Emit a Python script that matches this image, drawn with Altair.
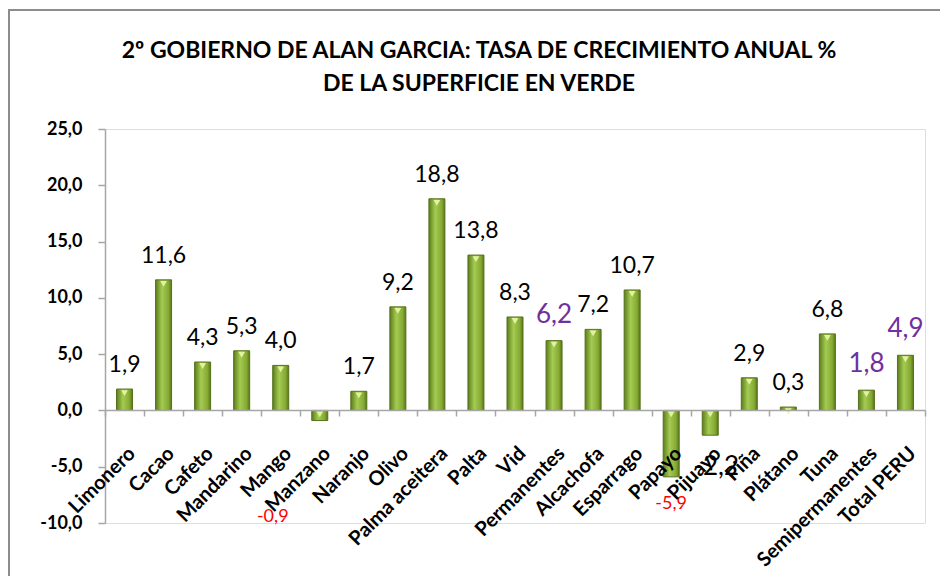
import altair as alt
import pandas as pd

categories = ["Limonero", "Cacao", "Cafeto", "Mandarino", "Mango", "Manzano", "Naranjo",
              "Olivo", "Palma aceitera", "Palta", "Vid", "Permanentes", "Alcachofa",
              "Esparrago", "Papayo", "Pijuayo", "Piña", "Plátano", "Tuna",
              "Semipermanentes", "Total PERU"]
values = [1.9, 11.6, 4.3, 5.3, 4.0, -0.9, 1.7, 9.2, 18.8, 13.8, 8.3, 6.2, 7.2,
          10.7, -5.9, -2.2, 2.9, 0.3, 6.8, 1.8, 4.9]
label_group = ["std", "std", "std", "std", "std", "red", "std", "std", "std", "std",
               "std", "total", "std", "std", "red", "negblack", "std", "std", "std",
               "total", "total"]
y_ticks = [-10, -5, 0, 5, 10, 15, 20, 25]
title_lines = ["2º GOBIERNO DE ALAN GARCIA: TASA DE CRECIMIENTO ANUAL %",
               "DE LA SUPERFICIE EN VERDE"]

df = pd.DataFrame({"cat": categories, "value": values, "grp": label_group})

FONT = "Lato"
fmt = "replace(replace(format(datum.value, '.1f'), '.', ','), '\u2212', '-')"

base = alt.Chart(df).transform_calculate(
    label=fmt,
    top="max(datum.value, 0)"
)

x_enc = alt.X("cat:N", sort=categories,
              scale=alt.Scale(paddingInner=0, paddingOuter=0),
              axis=alt.Axis(title=None, labelAngle=-45, labelFont=FONT, labelFontSize=20,
                            labelFontWeight="bold", labelColor="black", labelPadding=27,
                            offset=-113, domainColor="#a6a6a6", domainWidth=1.5,
                            tickColor="#a6a6a6", tickWidth=1.5, tickSize=6,
                            tickBand="extent", labelOverlap=False, zindex=1))
y_enc = alt.Y("value:Q",
              scale=alt.Scale(domain=[-10, 25], nice=False, zero=False),
              axis=alt.Axis(title=None, values=y_ticks, grid=False,
                            labelExpr=fmt, labelFont=FONT, labelFontSize=18,
                            labelFontWeight="bold", labelColor="black", labelPadding=16,
                            domainColor="#a6a6a6", domainWidth=1.5, tickColor="#a6a6a6",
                            tickWidth=1.5, tickSize=7))

grad = alt.Gradient(gradient="linear", x1=0, x2=1, y1=0, y2=0,
                    stops=[alt.GradientStop(offset=0, color="#5d7d1c"),
                           alt.GradientStop(offset=0.4, color="#a4cb52"),
                           alt.GradientStop(offset=0.8, color="#86aa34"),
                           alt.GradientStop(offset=1, color="#587619")])

bars = base.mark_bar(width=16, fill=grad, stroke="#55721b", strokeWidth=1).encode(
    x=x_enc, y=y_enc, y2=alt.datum(0))

tips = base.mark_point(shape="triangle-down", filled=True, color="#e2f3a0",
                       size=45, opacity=1, yOffset=4).encode(
    x=alt.X("cat:N", sort=categories), y="top:Q")

std_labels = base.transform_filter("datum.grp == 'std'").mark_text(
    font=FONT, fontSize=23, color="black", baseline="alphabetic", dy=-17).encode(
    x=alt.X("cat:N", sort=categories), y="value:Q", text="label:N")

total_labels = base.transform_filter("datum.grp == 'total'").mark_text(
    font=FONT, fontSize=26, color="#7030a0", baseline="alphabetic", dy=-18).encode(
    x=alt.X("cat:N", sort=categories), y="value:Q", text="label:N")

manzano_label = base.transform_filter("datum.cat == 'Manzano'").mark_text(
    font=FONT, fontSize=18, color="#ff0000", baseline="middle", dx=-47, dy=96).encode(
    x=alt.X("cat:N", sort=categories), y="value:Q", text="label:N")

papayo_label = base.transform_filter("datum.cat == 'Papayo'").mark_text(
    font=FONT, fontSize=18, color="#ff0000", baseline="middle", dy=27).encode(
    x=alt.X("cat:N", sort=categories), y="value:Q", text="label:N")

pijuayo_label = base.transform_filter("datum.grp == 'negblack'").mark_text(
    font=FONT, fontSize=26, color="black", baseline="middle", dx=6, dy=32).encode(
    x=alt.X("cat:N", sort=categories), y="value:Q", text="label:N")

frame = alt.Chart(pd.DataFrame({"a": [0]})).mark_rect(
    fill=None, stroke="#8c8c8c", strokeWidth=2).encode(
    x=alt.value(-96), x2=alt.value(900), y=alt.value(-119), y2=alt.value(520))

chart = alt.layer(frame, bars, tips, std_labels, total_labels, manzano_label,
                  papayo_label, pijuayo_label).properties(
    width=820, height=394,
    title=alt.TitleParams(text=title_lines, font=FONT, fontSize=23, fontWeight="bold",
                          color="black", anchor="middle", dx=-36, offset=-87,
                          lineHeight=33),
    autosize=alt.AutoSizeParams(type="none"),
    padding={"left": 97, "top": 121, "right": 15, "bottom": 53},
).configure_view(stroke=None).configure(background="white")

chart.save("out.html", embed_options={"renderer": "svg", "actions": False})
